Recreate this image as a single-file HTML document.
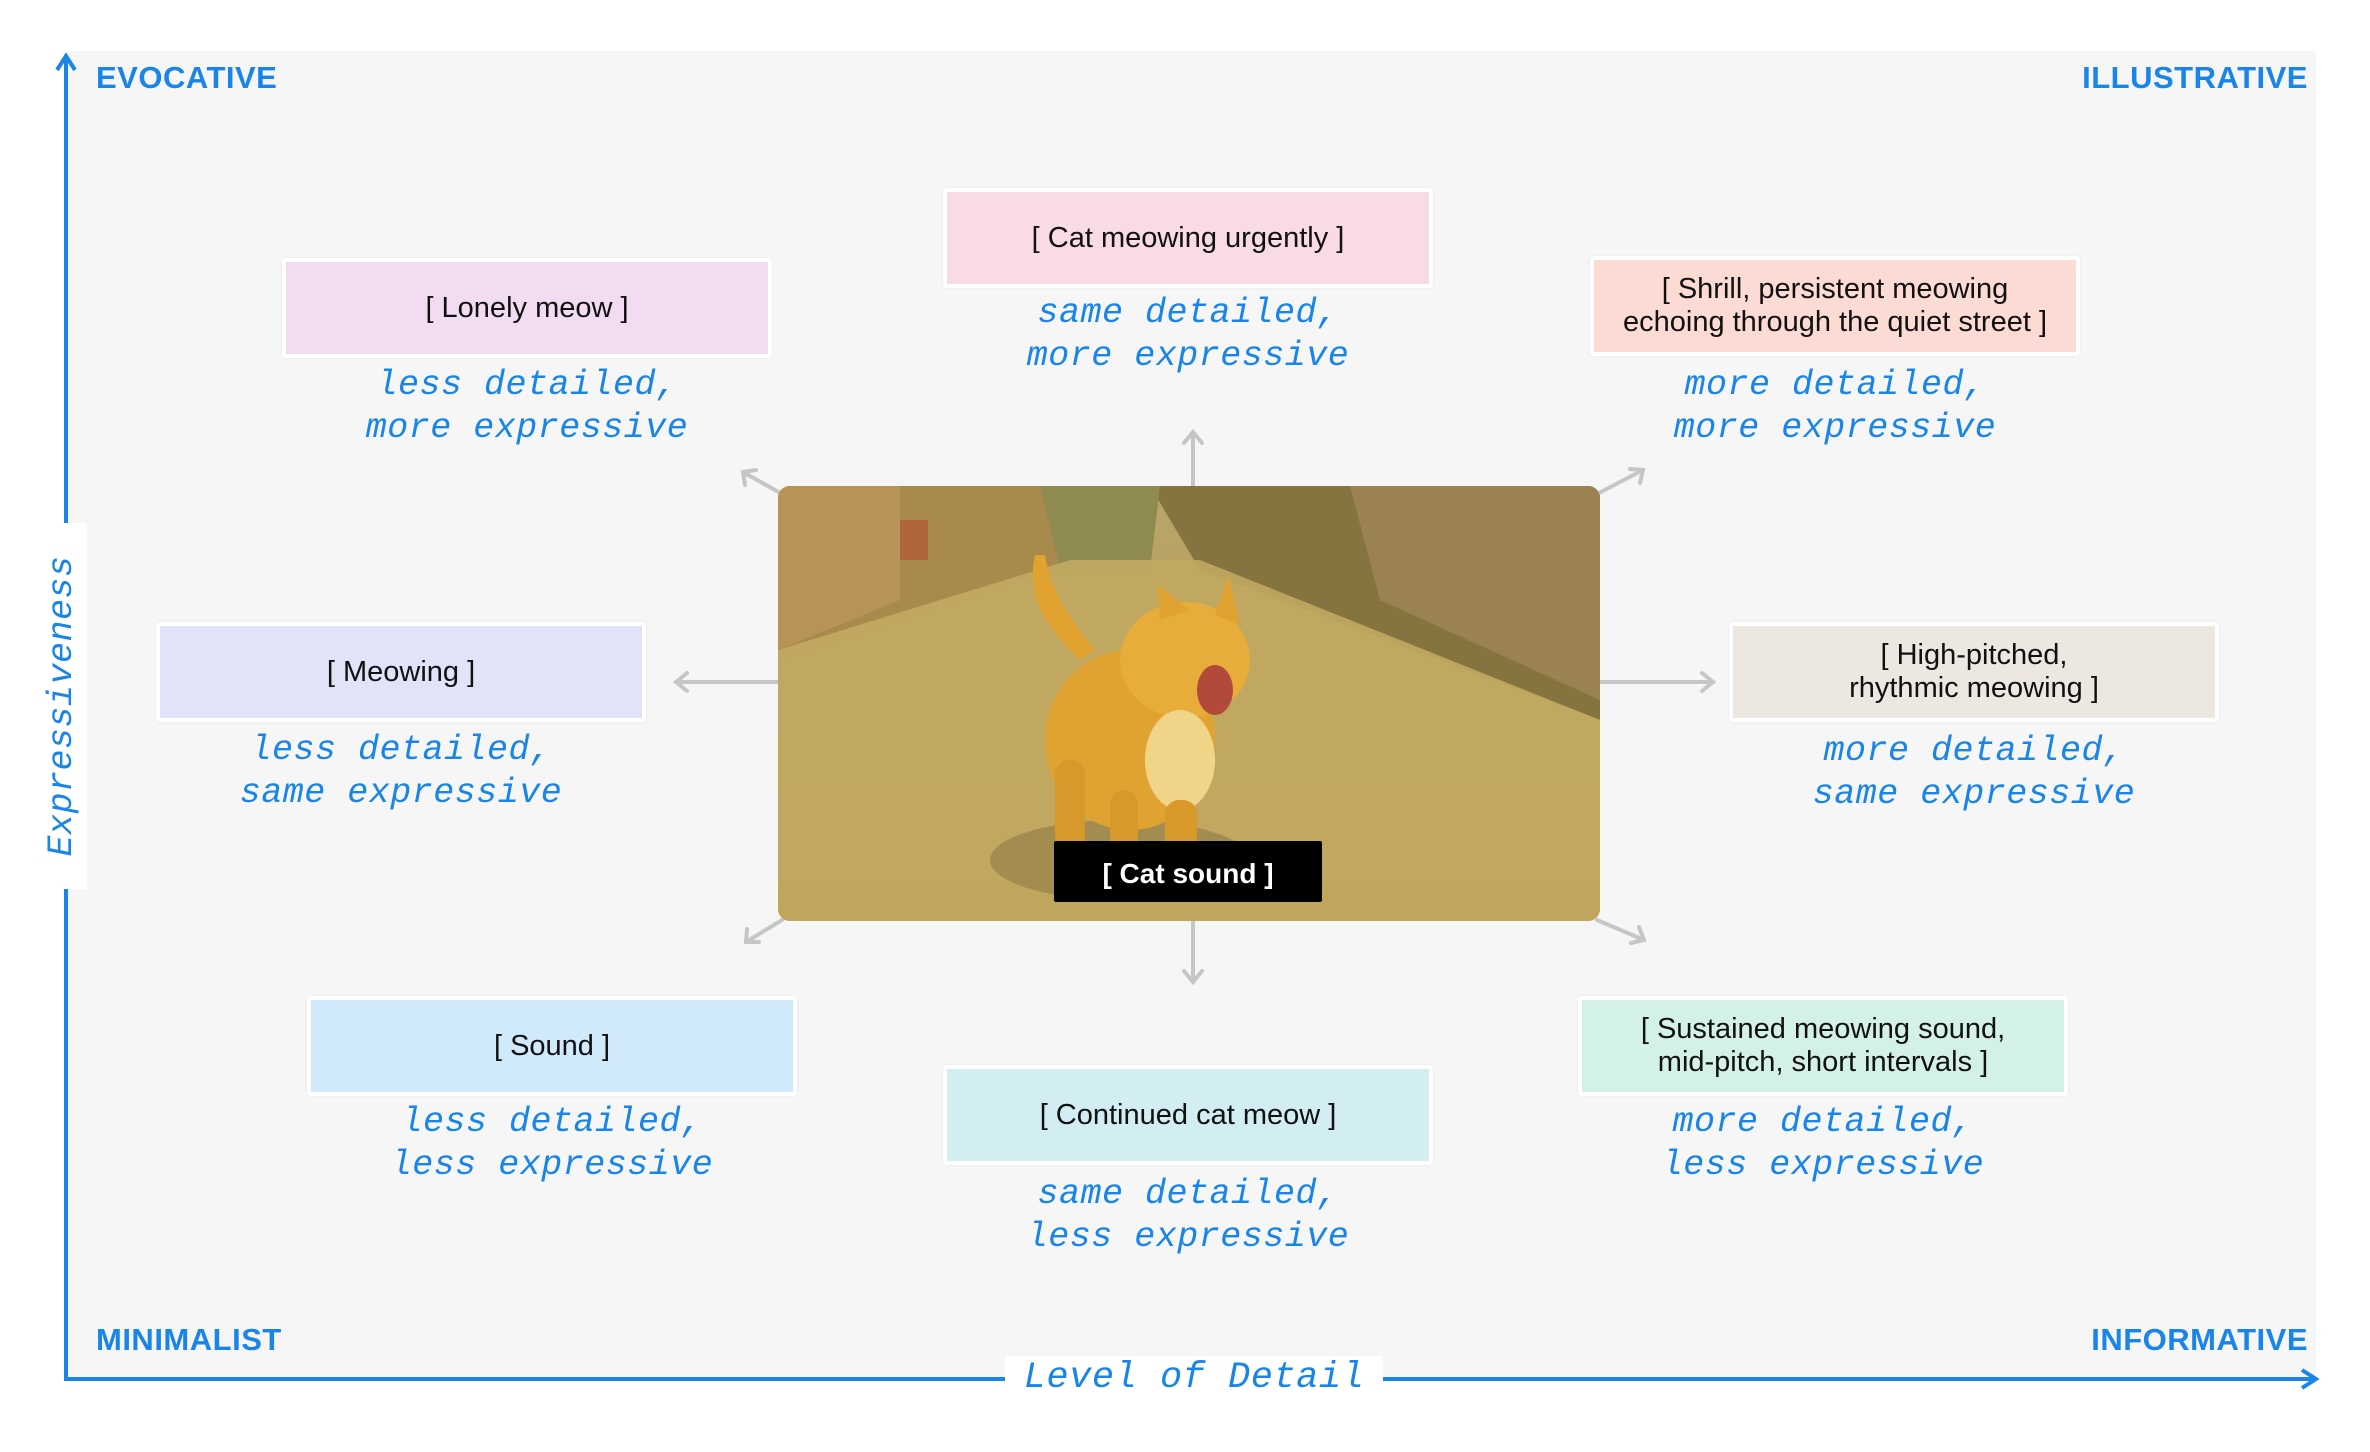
<!DOCTYPE html>
<html><head><meta charset="utf-8"><style>
*{margin:0;padding:0;box-sizing:border-box}
body{width:2370px;height:1452px;background:#fff;position:relative;overflow:hidden;font-family:"Liberation Sans",sans-serif}
.panel{position:absolute;left:68px;top:51px;width:2248px;height:1330px;background:#f6f6f6}
.corner{position:absolute;color:#1a85e8;font-size:31px;font-weight:bold;letter-spacing:0.5px}
.box{position:absolute;width:490px;height:100px;border:4px solid #fff;border-radius:4px;display:flex;align-items:center;justify-content:center;text-align:center;font-size:29px;line-height:33px;color:#111;box-shadow:0 0 2px rgba(0,0,0,0.08)}
.lab{position:absolute;width:600px;text-align:center;font-family:"Liberation Mono",monospace;font-style:italic;font-size:35px;line-height:43px;color:#1a85e8;letter-spacing:0.5px}
</style></head><body>
<div class="panel"></div>
<svg width="2370" height="1452" style="position:absolute;left:0;top:0">
<g stroke="#1a85e8" stroke-width="4" fill="none">
<line x1="66" y1="58" x2="66" y2="1381"/>
<polyline points="57,70 66,56 75,70"/>
<line x1="64" y1="1379" x2="2316" y2="1379"/>
<polyline points="2302,1370 2316,1379 2302,1388"/>
</g>
<g stroke="#c6c6c6" stroke-width="4" fill="none" stroke-linecap="round">
<line x1="1193" y1="486" x2="1193" y2="432"/><polyline points="1184,443 1193,432 1202,443"/>
<line x1="1193" y1="921" x2="1193" y2="982"/><polyline points="1184,971 1193,982 1202,971"/>
<line x1="778" y1="682" x2="676" y2="682"/><polyline points="687,673 676,682 687,691"/>
<line x1="1600" y1="682" x2="1713" y2="682"/><polyline points="1702,673 1713,682 1702,691"/>
<line x1="782" y1="494" x2="743" y2="472"/><polyline points="745,485 743,472 756,470"/>
<line x1="1597" y1="494" x2="1643" y2="470"/><polyline points="1630,469 1643,470 1640,483"/>
<line x1="782" y1="920" x2="746" y2="942"/><polyline points="747,929 746,942 759,942"/>
<line x1="1597" y1="920" x2="1644" y2="940"/><polyline points="1639,927 1644,940 1631,943"/>
</g>
<defs>
<clipPath id="ic"><rect x="778" y="486" width="822" height="435" rx="12"/></clipPath>
<linearGradient id="road" x1="0" y1="0" x2="0" y2="1"><stop offset="0" stop-color="#b8a56a"/><stop offset="1" stop-color="#b99a4c"/></linearGradient>
</defs>
<g clip-path="url(#ic)">
<rect x="778" y="486" width="822" height="435" fill="url(#road)"/>
<polygon points="778,486 1060,486 1080,560 778,660" fill="#a88a4c"/>
<polygon points="778,486 900,486 900,600 778,650" fill="#b79356"/>
<polygon points="1150,486 1600,486 1600,720 1200,570" fill="#857340"/>
<polygon points="1350,486 1600,486 1600,700 1380,600" fill="#9b8252"/>
<polygon points="1040,486 1160,486 1150,570 1060,570" fill="#8e8a50"/>
<polygon points="778,650 1070,560 1200,560 1600,720 1600,921 778,921" fill="#c2a861" opacity="0.9"/>
<ellipse cx="1120" cy="860" rx="130" ry="40" fill="#8d7a45" opacity="0.6"/>
<rect x="900" y="520" width="28" height="40" fill="#b0653a"/>
<path d="M1035,555 C1025,600 1050,630 1080,660 L1095,650 C1070,620 1050,590 1045,555 Z" fill="#e1a230"/>
<ellipse cx="1130" cy="740" rx="85" ry="90" fill="#e0a332"/>
<ellipse cx="1185" cy="660" rx="65" ry="58" fill="#e8ac3a"/>
<polygon points="1160,620 1158,585 1190,610" fill="#e0a332"/>
<polygon points="1215,615 1228,575 1240,625" fill="#e0a332"/>
<ellipse cx="1215" cy="690" rx="18" ry="25" fill="#b24a3a"/>
<ellipse cx="1180" cy="760" rx="35" ry="50" fill="#f0d488"/>
<rect x="1055" y="760" width="30" height="100" rx="14" fill="#d8982c"/>
<rect x="1110" y="790" width="28" height="100" rx="14" fill="#d8982c"/>
<rect x="1165" y="800" width="32" height="80" rx="14" fill="#d8982c"/>
</g>
<rect x="1054" y="841" width="268" height="61" rx="2" fill="#000"/>
<text x="1188" y="883" text-anchor="middle" font-family="Liberation Sans" font-weight="bold" font-size="28" fill="#fff">[ Cat sound ]</text>
</svg>
<div class="corner" style="left:96px;top:60px">EVOCATIVE</div>
<div class="corner" style="right:62px;top:60px">ILLUSTRATIVE</div>
<div class="corner" style="left:96px;top:1322px">MINIMALIST</div>
<div class="corner" style="right:62px;top:1322px">INFORMATIVE</div>
<div style="position:absolute;left:45px;top:523px;width:42px;height:366px;background:#fff"></div>
<div style="position:absolute;left:62px;top:706px;transform:translate(-50%,-50%) rotate(-90deg);white-space:nowrap;font-family:'Liberation Mono',monospace;font-style:italic;font-size:35px;color:#1a85e8;letter-spacing:0.5px">Expressiveness</div>
<div style="position:absolute;left:1005px;top:1356px;width:378px;height:46px;background:#fff"></div>
<div style="position:absolute;left:1194px;top:1378px;transform:translate(-50%,-50%);white-space:nowrap;font-family:'Liberation Mono',monospace;font-style:italic;font-size:37px;color:#1a85e8;letter-spacing:0.5px">Level of Detail</div>

<div class="box" style="left:282px;top:258px;background:#f2dcf1">[ Lonely meow ]</div>
<div class="lab" style="left:227px;top:364px">less detailed,<br>more expressive</div>
<div class="box" style="left:943px;top:188px;background:#f9dbe3">[ Cat meowing urgently ]</div>
<div class="lab" style="left:888px;top:292px">same detailed,<br>more expressive</div>
<div class="box" style="left:1590px;top:256px;background:#fddbd5">[ Shrill, persistent meowing<br>echoing through the quiet street ]</div>
<div class="lab" style="left:1535px;top:364px">more detailed,<br>more expressive</div>
<div class="box" style="left:156px;top:622px;background:#e1e3f8">[ Meowing ]</div>
<div class="lab" style="left:101px;top:729px">less detailed,<br>same expressive</div>
<div class="box" style="left:1729px;top:622px;background:#ece7e0">[ High-pitched,<br>rhythmic meowing ]</div>
<div class="lab" style="left:1674px;top:730px">more detailed,<br>same expressive</div>
<div class="box" style="left:307px;top:996px;background:#d0eafc">[ Sound ]</div>
<div class="lab" style="left:252px;top:1101px">less detailed,<br>less expressive</div>
<div class="box" style="left:943px;top:1065px;background:#d2eef3">[ Continued cat meow ]</div>
<div class="lab" style="left:888px;top:1173px">same detailed,<br>less expressive</div>
<div class="box" style="left:1578px;top:996px;background:#d3f1e8">[ Sustained meowing sound,<br>mid-pitch, short intervals ]</div>
<div class="lab" style="left:1523px;top:1101px">more detailed,<br>less expressive</div>
</body></html>
